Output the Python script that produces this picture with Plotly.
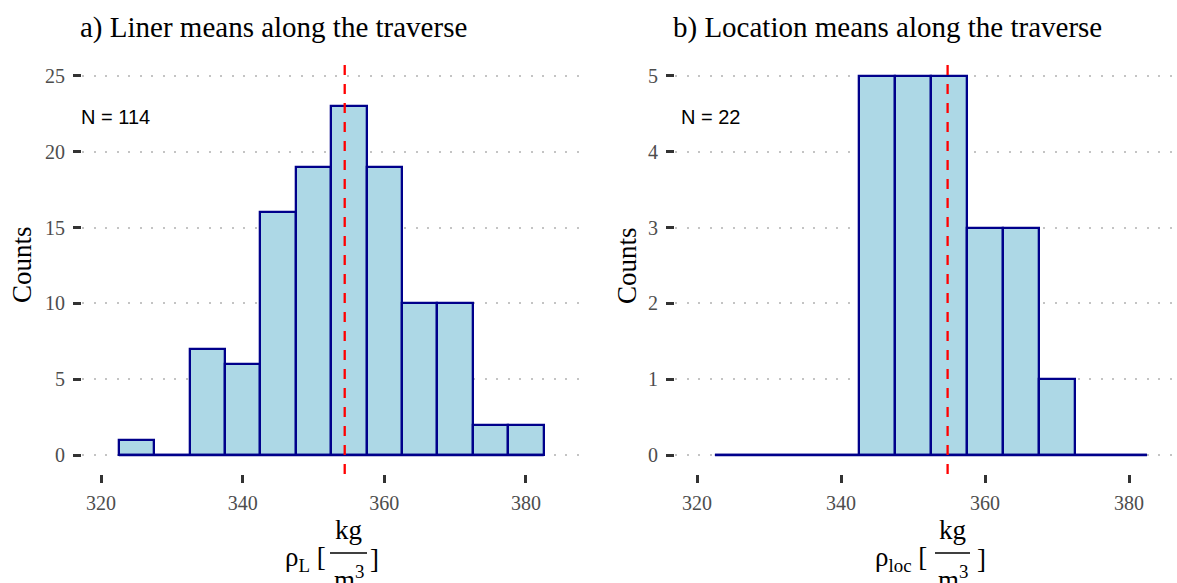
import plotly.graph_objects as go

# ---- data -------------------------------------------------------------
BIN_WIDTH = 5
liner_centers = [325, 330, 335, 340, 345, 350, 355, 360, 365, 370, 375, 380]
liner_counts = [1, 0, 7, 6, 16, 19, 23, 19, 10, 10, 2, 2]
liner_mean = 354.4
liner_n = 114

loc_centers = [325, 330, 335, 340, 345, 350, 355, 360, 365, 370, 375, 380]
loc_counts = [0, 0, 0, 0, 5, 5, 5, 3, 3, 1, 0, 0]
loc_mean = 354.8
loc_n = 22

x_ticks = [320, 340, 360, 380]
liner_y_ticks = [0, 5, 10, 15, 20, 25]
loc_y_ticks = [0, 1, 2, 3, 4, 5]

# ---- figure geometry --------------------------------------------------
W, H = 1177, 583


def px(x):
    return x / W


def py(y):
    return 1 - y / H


SERIF = "Liberation Serif"
SANS = "Liberation Sans"
FILL = "#ADD8E6"
EDGE = "#00008B"
TICK_GREY = "#4D4D4D"

fig = go.Figure()

panels = [
    dict(xa="x", ya="y", centers=liner_centers, counts=liner_counts, mean=liner_mean),
    dict(xa="x2", ya="y2", centers=loc_centers, counts=loc_counts, mean=loc_mean),
]

for p in panels:
    edges_lo = p["centers"][0] - BIN_WIDTH / 2
    edges_hi = p["centers"][-1] + BIN_WIDTH / 2
    fig.add_trace(go.Bar(
        x=p["centers"], y=p["counts"], width=BIN_WIDTH,
        marker=dict(color=FILL, line=dict(color=EDGE, width=2.3)),
        xaxis=p["xa"], yaxis=p["ya"], showlegend=False, hoverinfo="x+y",
    ))
    # baseline along the whole binned range (empty bins show as a flat edge)
    fig.add_trace(go.Scatter(
        x=[edges_lo, edges_hi], y=[0, 0], mode="lines",
        line=dict(color=EDGE, width=2.5),
        xaxis=p["xa"], yaxis=p["ya"], showlegend=False, hoverinfo="skip",
    ))
    fig.add_shape(
        type="line", xref=p["xa"], yref=f"{p['ya']} domain",
        x0=p["mean"], x1=p["mean"], y0=0, y1=1,
        line=dict(color="#FF0000", width=2.3, dash="10px,9px"),
    )

axis_common = dict(
    ticks="outside", ticklen=8, tickwidth=2.5, tickcolor="#333333",
    tickfont=dict(family=SERIF, size=20, color=TICK_GREY),
    showline=False, zeroline=False,
)

y_dom = [py(474), py(57)]

fig.update_layout(
    width=W, height=H,
    margin=dict(l=0, r=0, t=0, b=0),
    paper_bgcolor="white", plot_bgcolor="white",
    bargap=0,
    xaxis=dict(domain=[px(82), px(587.6)], range=[317.3, 388.7],
               tickvals=x_ticks, showgrid=False, ticklabelstandoff=3,
               anchor="y", **axis_common),
    yaxis=dict(domain=y_dom, range=[-1.25, 26.25], tickvals=liner_y_ticks,
               showgrid=True, gridcolor="#C4C4C4", gridwidth=2,
               griddash="2px,9.5px", ticklabelstandoff=4,
               anchor="x", **axis_common),
    xaxis2=dict(domain=[px(675), 1.0], range=[316.94, 386.66],
                tickvals=x_ticks, showgrid=False, ticklabelstandoff=3,
                anchor="y2", **axis_common),
    yaxis2=dict(domain=y_dom, range=[-0.25, 5.25], tickvals=loc_y_ticks,
                showgrid=True, gridcolor="#C4C4C4", gridwidth=2,
                griddash="2px,9.5px", ticklabelstandoff=4,
                anchor="x2", **axis_common),
)


def note(text, x, y, size, family=SERIF, xanchor="center", yanchor="middle",
         angle=0, color="black"):
    fig.add_annotation(
        text=text, x=px(x), y=py(y), xref="paper", yref="paper",
        xanchor=xanchor, yanchor=yanchor, showarrow=False, textangle=angle,
        font=dict(family=family, size=size, color=color), borderpad=0,
    )


# panel titles
note("a) Liner means along the traverse", 273.5, 28, 29)
note("b) Location means along the traverse", 887, 28, 29)

# sample sizes
note(f"N = {liner_n}", 80, 117, 20, family=SANS, xanchor="left")
note(f"N = {loc_n}", 680, 117, 20, family=SANS, xanchor="left")

# y axis titles
note("Counts", 22, 265, 27, angle=-90)
note("Counts", 627, 265, 27, angle=-90)


# x axis titles:  rho_sub [ kg / m^3 ]
def density_title(sub, bracket_right, frac_left, frac_right, close_left):
    mid = (frac_left + frac_right) / 2
    note(f"ρ<sub>{sub}</sub> [", bracket_right, 559, 27, xanchor="right")
    note("kg", mid, 530, 27)
    note("m<sup>3</sup>", mid, 578, 27)
    note("]", close_left, 559, 27, xanchor="left")
    fig.add_shape(type="line", xref="paper", yref="paper",
                  x0=px(frac_left), x1=px(frac_right), y0=py(553), y1=py(553),
                  line=dict(color="black", width=1.3))


density_title("L", 327, 330, 367, 369)
density_title("loc", 928, 935, 970, 976)

fig.write_html("out.html")
